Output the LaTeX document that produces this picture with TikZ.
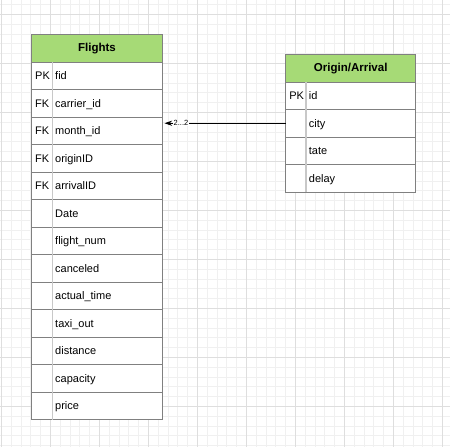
\documentclass[tikz,border=0pt]{standalone}
\usepackage{fontspec}
\setmainfont{Liberation Sans}
\usetikzlibrary{arrows.meta}
\definecolor{hdrgreen}{RGB}{166,218,118}
\definecolor{bordergray}{RGB}{128,128,128}
\definecolor{divgray}{RGB}{200,200,200}
\definecolor{gridminor}{RGB}{240,240,240}
\definecolor{gridmajor}{RGB}{222,222,222}
\begin{document}
\begin{tikzpicture}[x=1pt,y=-1pt,
  rowbox/.style={draw=bordergray, line width=0.8pt, minimum height=27.5pt, inner sep=0pt, outer sep=0pt, anchor=north west, fill=white},
  hdrbox/.style={rowbox, fill=hdrgreen, font=\bfseries\fontsize{11.5}{13}\selectfont},
  keytxt/.style={anchor=base west, inner sep=0pt, font=\fontsize{11}{13}\selectfont},
  fldtxt/.style={anchor=base west, inner sep=0pt, font=\fontsize{11}{13}\selectfont},
  divider/.style={draw=divgray, line width=1.6pt},
  relline/.style={draw=black, line width=0.9pt, shorten >=2pt, -{Stealth[length=7.5pt,width=5pt]}},
  rellabel/.style={fill=white, inner sep=0.5pt, font=\fontsize{7.5}{8}\selectfont}
]
\useasboundingbox (0,0) rectangle (450,447);
\fill[white] (0,0) rectangle (450,447);
% grid
\foreach \i in {0,...,45} {
  \pgfmathsetmacro{\gx}{1.3+9.8*\i}
  \draw[gridminor, line width=0.6pt] (\gx,0) -- (\gx,447);
}
\foreach \j in {0,...,45} {
  \pgfmathsetmacro{\gy}{4.5+9.8*\j}
  \draw[gridminor, line width=0.6pt] (0,\gy) -- (450,\gy);
}
\foreach \i in {0,5,...,45} {
  \pgfmathsetmacro{\gx}{1.3+9.8*\i}
  \draw[gridmajor, line width=0.7pt] (\gx,0) -- (\gx,447);
}
\foreach \j in {1,6,...,46} {
  \pgfmathsetmacro{\gy}{4.5+9.8*\j}
  \draw[gridmajor, line width=0.7pt] (0,\gy) -- (450,\gy);
}
% Flights table
\node[hdrbox, minimum width=131pt] (fh) at (31.5,34.5) {Flights};
\foreach [count=\i] \k/\f in {PK/fid, FK/carrier\_id, FK/month\_id, FK/originID, FK/arrivalID, /Date, /flight\_num, /canceled, /actual\_time, /taxi\_out, /distance, /capacity, /price} {
  \pgfmathsetmacro{\ry}{62+27.5*(\i-1)}
  \node[rowbox, minimum width=131pt] (f\i) at (31.5,\ry) {};
  \node[keytxt] (fk\i) at ([xshift=3.5pt,yshift=-4pt]f\i.west) {\k};
  \node[fldtxt] (fn\i) at ([xshift=23.5pt,yshift=-4pt]f\i.west) {\f};
}
\draw[divider] ([xshift=21pt]f1.north west) -- ([xshift=21pt]f13.south west);
% Origin/Arrival table
\node[hdrbox, minimum width=130pt] (oh) at (285.7,54.5) {Origin/Arrival};
\foreach [count=\i] \k/\f in {PK/id, /city, /tate, /delay} {
  \pgfmathsetmacro{\ry}{82+27.5*(\i-1)}
  \node[rowbox, minimum width=130pt] (o\i) at (285.7,\ry) {};
  \node[keytxt] (ok\i) at ([xshift=3.5pt,yshift=-4pt]o\i.west) {\k};
  \node[fldtxt] (on\i) at ([xshift=23pt,yshift=-4pt]o\i.west) {\f};
}
\draw[divider] ([xshift=20.3pt]o1.north west) -- ([xshift=20.3pt]o4.south west);
% relation
\draw[relline] (o2.west) -- (o2.west -| fh.east) node[rellabel, pos=0.85] (rl) {2...2};
\end{tikzpicture}
\end{document}
